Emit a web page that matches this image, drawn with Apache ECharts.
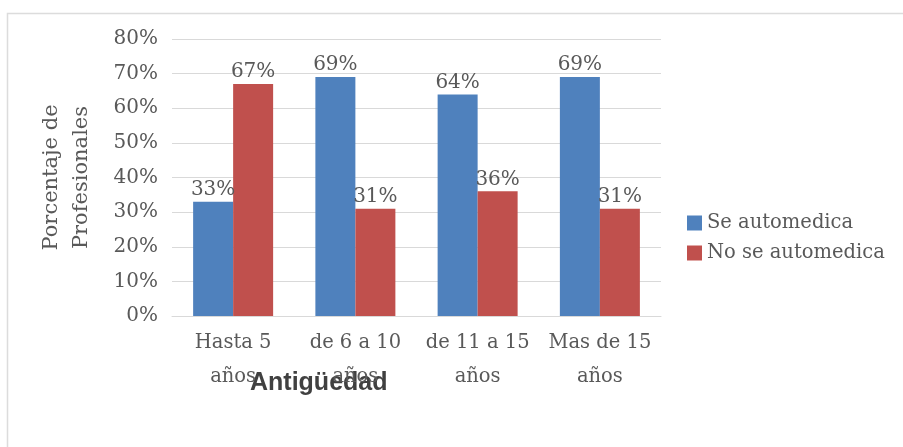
<!DOCTYPE html>
<html>
<head>
<meta charset="utf-8">
<script src="https://cdn.jsdelivr.net/npm/echarts@6/dist/echarts.min.js"></script>
<style>
html,body{margin:0;padding:0;background:#fff;}
#c{width:903px;height:447px;}
</style>
</head>
<body>
<div id="c"></div>
<script>
var categories = ['Hasta 5\naños', 'de 6 a 10\naños', 'de 11 a 15\naños', 'Mas de 15\naños'];
var seAutomedica = [33, 69, 64, 69];
var noSeAutomedica = [67, 31, 36, 31];
var yTicks = [0, 10, 20, 30, 40, 50, 60, 70, 80];
var seriesNames = ['Se automedica', 'No se automedica'];
var yAxisTitle = 'Porcentaje de\nProfesionales';
var xAxisTitle = 'Antigüedad';

var serif = '"DejaVu Serif", "Liberation Serif", serif';
var textColor = '#595959';
var chart = echarts.init(document.getElementById('c'), null, {renderer: 'canvas'});
var labelStyle = {
  show: true, position: 'top', distance: 2,
  formatter: function (p) { return p.value + '%'; },
  color: textColor, fontFamily: serif, fontSize: 20
};
chart.setOption({
  backgroundColor: '#ffffff',
  animation: false,
  graphic: [
    {type: 'rect', shape: {x: 7.5, y: 13.5, width: 1000, height: 1000},
     style: {fill: 'none', stroke: '#dcdcdc', lineWidth: 1.5}, z: -1},
    {type: 'text', left: 250, top: 371,
     style: {text: xAxisTitle, fill: '#404040', font: 'bold 25px "Liberation Sans", Arial, sans-serif'}}
  ],
  legend: {
    orient: 'vertical', left: 682, top: 208,
    itemWidth: 15, itemHeight: 15, itemGap: 10,
    icon: 'rect',
    textStyle: {color: textColor, fontFamily: serif, fontSize: 19.5, padding: [0, 0, 0, 0]},
    data: seriesNames
  },
  grid: {left: 172, right: 242, top: 39, bottom: 131},
  xAxis: {
    type: 'category', data: categories,
    axisLine: {show: true, lineStyle: {color: '#d9d9d9'}},
    axisTick: {show: false},
    axisLabel: {interval: 0, color: textColor, fontFamily: serif, fontSize: 19.5, lineHeight: 34, margin: 10}
  },
  yAxis: {
    type: 'value', min: yTicks[0], max: yTicks[yTicks.length - 1], interval: 10,
    name: yAxisTitle, nameLocation: 'middle', nameGap: 75,
    nameTextStyle: {color: textColor, fontFamily: serif, fontSize: 21, lineHeight: 30},
    axisLine: {show: false}, axisTick: {show: false},
    axisLabel: {color: textColor, fontFamily: serif, fontSize: 20, margin: 14, formatter: '{value}%'},
    splitLine: {lineStyle: {color: '#d9d9d9', width: 1}}
  },
  series: [
    {name: seriesNames[0], type: 'bar', data: seAutomedica, barWidth: 40, barGap: '0%',
     itemStyle: {color: '#4F81BD'}, label: labelStyle},
    {name: seriesNames[1], type: 'bar', data: noSeAutomedica, barWidth: 40, barGap: '0%',
     itemStyle: {color: '#C0504D'}, label: labelStyle}
  ]
});
</script>
</body>
</html>
